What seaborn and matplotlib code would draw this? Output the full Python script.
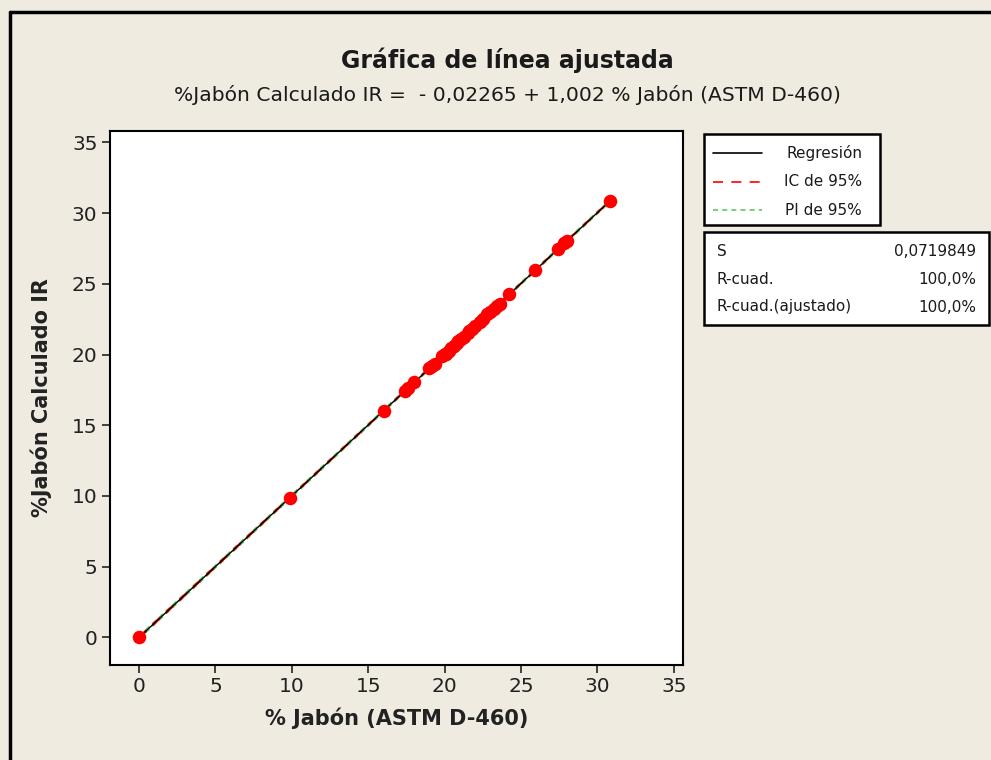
import numpy as np
import pandas as pd
import matplotlib
matplotlib.use("Agg")
import matplotlib.pyplot as plt
import seaborn as sns
from matplotlib.lines import Line2D
from matplotlib.patches import Rectangle

# ---------------- data ----------------
x_vals = [0.0, 9.9, 16.0, 17.4, 17.6, 18.0, 19.0, 19.2, 19.4, 19.8, 20.0, 20.1,
          20.3, 20.4, 20.6, 20.8, 20.9, 21.1, 21.3, 21.5, 21.6, 21.8, 22.0, 22.3,
          22.5, 22.8, 23.0, 23.2, 23.4, 23.6, 24.2, 25.9, 27.4, 27.8, 28.0, 30.8]
y_vals = [0.05, 9.88, 15.98, 17.45, 17.62, 18.05, 19.08, 19.20, 19.35, 19.90, 20.02, 20.06,
          20.28, 20.45, 20.60, 20.78, 20.95, 21.12, 21.25, 21.52, 21.66, 21.80, 22.01, 22.32,
          22.48, 22.85, 23.03, 23.20, 23.45, 23.58, 24.25, 25.95, 27.44, 27.85, 28.02, 30.88]
tick_vals = [0, 5, 10, 15, 20, 25, 30, 35]
legend_labels = ["Regresión", "IC de 95%", "PI de 95%"]
stat_names = ["S", "R-cuad.", "R-cuad.(ajustado)"]
stat_values = ["0,0719849", "100,0%", "100,0%"]
title_text = "Gráfica de línea ajustada"
subtitle_text = "%Jabón Calculado IR =  - 0,02265 + 1,002 % Jabón (ASTM D-460)"
xlabel_text = "% Jabón (ASTM D-460)"
ylabel_text = "%Jabón Calculado IR"

df = pd.DataFrame({"x": x_vals, "y": y_vals})

# ---------------- fit / intervals ----------------
x = np.asarray(x_vals)
y = np.asarray(y_vals)
n = len(x)
b1, b0 = np.polyfit(x, y, 1)
resid = y - (b0 + b1 * x)
s = np.sqrt(np.sum(resid ** 2) / (n - 2))
t = 2.032
xx = np.linspace(x.min(), x.max(), 200)
yy = b0 + b1 * xx
sxx = np.sum((x - x.mean()) ** 2)
se_ci = s * np.sqrt(1.0 / n + (xx - x.mean()) ** 2 / sxx)
se_pi = s * np.sqrt(1 + 1.0 / n + (xx - x.mean()) ** 2 / sxx)

# ---------------- style ----------------
sns.set_theme(style="ticks")
plt.rcParams["font.family"] = ["DejaVu Sans"]
BG = "#EFEBE1"

fig = plt.figure(figsize=(9.91, 7.60), dpi=100, facecolor=BG)
W, H = 991.0, 760.0
ax = fig.add_axes([110 / W, 1 - 665 / H, (683 - 110) / W, (665 - 131) / H])
ax.set_facecolor("white")

GREEN = "#5FC85F"
RED = "#FF0000"
ax.plot(xx, yy + t * se_pi, color=GREEN, lw=1.2, dashes=(3, 2.5), zorder=2)
ax.plot(xx, yy - t * se_pi, color=GREEN, lw=1.2, dashes=(3, 2.5), zorder=2)
ax.plot(xx, yy + t * se_ci, color=RED, lw=1.2, dashes=(6, 5), zorder=2)
ax.plot(xx, yy - t * se_ci, color=RED, lw=1.2, dashes=(6, 5), zorder=2)
ax.plot(xx, yy, color="black", lw=1.0, zorder=3)

sns.scatterplot(data=df, x="x", y="y", ax=ax, color=RED, s=95,
                edgecolor=RED, linewidth=0, zorder=4, legend=False)

ax.set_xlim(-1.9, 35.6)
ax.set_ylim(-1.95, 35.8)
ax.set_xticks(tick_vals)
ax.set_yticks(tick_vals)
ax.tick_params(axis="both", direction="out", length=6, width=1.2,
               color="#222222", labelsize=14.5, labelcolor="#222222", pad=3)
for sp in ax.spines.values():
    sp.set_visible(True)
    sp.set_color("black")
    sp.set_linewidth(1.5)

ax.set_xlabel(xlabel_text, fontsize=15, fontweight="bold", color="#222222", labelpad=8)
ax.set_ylabel(ylabel_text, fontsize=15, fontweight="bold", color="#222222", labelpad=14)

# titles
fig.text(507 / W, 1 - 60 / H, title_text, ha="center", va="center",
         fontsize=17, fontweight="bold", color="#1a1a1a")
fig.text(507 / W, 1 - 95 / H, subtitle_text, ha="center", va="center",
         fontsize=14.6, color="#1a1a1a")

# frame border (left + top)
fig.add_artist(Line2D([10 / W, 10 / W], [0, 1 - 12 / H], transform=fig.transFigure,
                      color="black", lw=2.5))
fig.add_artist(Line2D([10 / W, 1], [1 - 12 / H, 1 - 12 / H], transform=fig.transFigure,
                      color="black", lw=2.5))

# legend box
fig.add_artist(Rectangle((704 / W, 1 - 225 / H), (880 - 704) / W, (225 - 134) / H,
                         transform=fig.transFigure, facecolor="white",
                         edgecolor="black", lw=1.8))
leg_y = [153, 182, 210]
leg_styles = [dict(color="black", lw=1.2),
              dict(color=RED, lw=1.2, dashes=(6, 5)),
              dict(color=GREEN, lw=1.2, dashes=(3, 2.5))]
for yy_px, lab, st in zip(leg_y, legend_labels, leg_styles):
    fig.add_artist(Line2D([713 / W, 762 / W], [1 - yy_px / H] * 2,
                          transform=fig.transFigure, **st))
    fig.text(862 / W, 1 - yy_px / H, lab, ha="right", va="center",
             fontsize=11, color="#1a1a1a")

# stats box
fig.add_artist(Rectangle((704 / W, 1 - 325 / H), (989 - 704) / W, (325 - 232) / H,
                         transform=fig.transFigure, facecolor="white",
                         edgecolor="black", lw=1.8))
st_y = [251, 279, 307]
for yy_px, nm, val in zip(st_y, stat_names, stat_values):
    fig.text(717 / W, 1 - yy_px / H, nm, ha="left", va="center",
             fontsize=11, color="#1a1a1a")
    fig.text(976 / W, 1 - yy_px / H, val, ha="right", va="center",
             fontsize=11, color="#1a1a1a")

fig.savefig("out.png", dpi=100, facecolor=BG)
